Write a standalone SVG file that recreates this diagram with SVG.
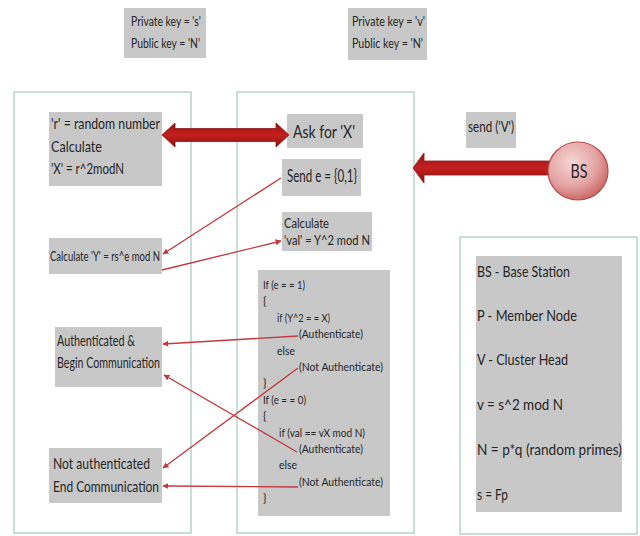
<svg xmlns="http://www.w3.org/2000/svg" width="640" height="536" viewBox="0 0 640 536">
<style>
.panel{fill:#ffffff;stroke:#a6c9bf;stroke-width:1.2}
.box{fill:#c8c8c8}
text{font-family:Lato,"Liberation Sans",sans-serif;fill:#262626}
.conn{stroke:#c0393f;stroke-width:1.3;fill:none;marker-end:url(#ah)}
.big{fill:url(#redg);stroke:#8a1616;stroke-width:0.8}
</style>
<defs>
<marker id="ah" viewBox="0 0 10 10" refX="9" refY="5" markerWidth="6" markerHeight="6" orient="auto" markerUnits="userSpaceOnUse">
<path d="M0,0 L10,5 L0,10 z" fill="#c0393f"/>
</marker>
<linearGradient id="redg" x1="0" y1="0" x2="0" y2="1">
<stop offset="0" stop-color="#9a1212"/>
<stop offset="0.5" stop-color="#c41f1f"/>
<stop offset="1" stop-color="#8c1010"/>
</linearGradient>
<radialGradient id="bsg" cx="0.4" cy="0.35" r="0.7">
<stop offset="0" stop-color="#f6d6d6"/>
<stop offset="0.6" stop-color="#e4a3a3"/>
<stop offset="1" stop-color="#c8605f"/>
</radialGradient>
</defs>

<g id="panels">
<rect id="panel-p" class="panel" x="14" y="92" width="177" height="441"/>
<rect id="panel-v" class="panel" x="237" y="92" width="177" height="441"/>
<rect id="panel-legend" class="panel" x="460" y="237" width="177" height="297"/>
</g>

<g id="key-p">
<rect class="box" x="124" y="8" width="82" height="50"/>
<text x="131" y="26" font-size="13" textLength="70" lengthAdjust="spacingAndGlyphs">Private key = 's'</text>
<text x="131" y="48" font-size="13" textLength="69" lengthAdjust="spacingAndGlyphs">Public key = 'N'</text>
</g>
<g id="key-v">
<rect class="box" x="348" y="8" width="79" height="52"/>
<text x="352" y="26" font-size="13" textLength="73" lengthAdjust="spacingAndGlyphs">Private key = 'v'</text>
<text x="352" y="48" font-size="13" textLength="71" lengthAdjust="spacingAndGlyphs">Public key = 'N'</text>
</g>

<g id="calc-x">
<rect class="box" x="49" y="112" width="113" height="74"/>
<text x="51" y="129" font-size="15" textLength="109" lengthAdjust="spacingAndGlyphs">'r' = random number</text>
<text x="51" y="152" font-size="15" textLength="51" lengthAdjust="spacingAndGlyphs">Calculate</text>
<text x="51" y="174" font-size="15" textLength="73" lengthAdjust="spacingAndGlyphs">'X' = r^2modN</text>
</g>

<g id="ask-x">
<rect class="box" x="287" y="114" width="76" height="34"/>
<text x="293" y="138" font-size="17.5" textLength="62" lengthAdjust="spacingAndGlyphs">Ask for 'X'</text>
</g>

<g id="send-e">
<rect class="box" x="282" y="159" width="79" height="37"/>
<text x="287" y="182" font-size="17.5" textLength="70" lengthAdjust="spacingAndGlyphs">Send e = {0,1}</text>
</g>

<g id="calc-val">
<rect class="box" x="282" y="212" width="90" height="39"/>
<text x="284" y="228" font-size="14" textLength="45" lengthAdjust="spacingAndGlyphs">Calculate</text>
<text x="284" y="245" font-size="14" textLength="86" lengthAdjust="spacingAndGlyphs">'val' = Y^2 mod N</text>
</g>

<g id="send-v">
<rect class="box" x="466" y="112" width="50" height="36"/>
<text x="468" y="132" font-size="15" textLength="46" lengthAdjust="spacingAndGlyphs">send ('V')</text>
</g>

<g id="calc-y">
<rect class="box" x="49" y="238" width="113" height="36"/>
<text x="50" y="261" font-size="13.5" textLength="110" lengthAdjust="spacingAndGlyphs">Calculate 'Y' = rs^e mod N</text>
</g>

<g id="auth">
<rect class="box" x="55" y="327" width="107" height="60"/>
<text x="57" y="346" font-size="15.5" textLength="78" lengthAdjust="spacingAndGlyphs">Authenticated &amp;</text>
<text x="57" y="368" font-size="15.5" textLength="103" lengthAdjust="spacingAndGlyphs">Begin Communication</text>
</g>

<g id="not-auth">
<rect class="box" x="49" y="448" width="113" height="55"/>
<text x="53" y="469" font-size="16" textLength="97" lengthAdjust="spacingAndGlyphs">Not authenticated</text>
<text x="53" y="492" font-size="16" textLength="106" lengthAdjust="spacingAndGlyphs">End Communication</text>
</g>

<g id="verify" font-size="11.5">
<rect class="box" x="258" y="270" width="132" height="246"/>
<text x="263" y="289" textLength="42" lengthAdjust="spacingAndGlyphs">If (e = = 1)</text>
<text x="263" y="305.4">{</text>
<text x="277" y="321.8" textLength="53" lengthAdjust="spacingAndGlyphs">if (Y^2 = = X)</text>
<text x="299" y="338.2" textLength="64" lengthAdjust="spacingAndGlyphs">(Authenticate)</text>
<text x="277" y="354.6" textLength="18" lengthAdjust="spacingAndGlyphs">else</text>
<text x="299" y="371" textLength="84" lengthAdjust="spacingAndGlyphs">(Not Authenticate)</text>
<text x="263" y="387.4">}</text>
<text x="263" y="403.8" textLength="43" lengthAdjust="spacingAndGlyphs">If (e = = 0)</text>
<text x="263" y="420.2">{</text>
<text x="279" y="436.6" textLength="86" lengthAdjust="spacingAndGlyphs">if (val == vX mod N)</text>
<text x="299" y="453" textLength="64" lengthAdjust="spacingAndGlyphs">(Authenticate)</text>
<text x="279" y="469.4" textLength="18" lengthAdjust="spacingAndGlyphs">else</text>
<text x="299" y="485.8" textLength="84" lengthAdjust="spacingAndGlyphs">(Not Authenticate)</text>
<text x="263" y="502.2">}</text>
</g>

<g id="legend" font-size="15">
<rect class="box" x="476" y="256" width="146" height="256"/>
<text x="477" y="277" textLength="93" lengthAdjust="spacingAndGlyphs">BS - Base Station</text>
<text x="477" y="321" textLength="100" lengthAdjust="spacingAndGlyphs">P - Member Node</text>
<text x="477" y="365" textLength="91" lengthAdjust="spacingAndGlyphs">V - Cluster Head</text>
<text x="477" y="410" textLength="86" lengthAdjust="spacingAndGlyphs">v = s^2 mod N</text>
<text x="477" y="455" textLength="145" lengthAdjust="spacingAndGlyphs">N = p*q (random primes)</text>
<text x="477" y="500" textLength="31" lengthAdjust="spacingAndGlyphs">s = Fp</text>
</g>

<g id="connectors">
<polygon class="big" points="162,135 175,123 175,128.5 276,128.5 276,123 289,135 276,147 276,141.5 175,141.5 175,147"/>
<polygon class="big" points="413,168 424,153 424,161 556,161 556,175 424,175 424,183"/>
<line class="conn" x1="281" y1="178" x2="163" y2="254"/>
<line class="conn" x1="162" y1="270" x2="281" y2="241"/>
<line class="conn" x1="298" y1="336" x2="163" y2="344"/>
<line class="conn" x1="298" y1="368" x2="163" y2="468"/>
<line class="conn" x1="297" y1="452" x2="164" y2="375"/>
<line class="conn" x1="298" y1="487" x2="163" y2="486"/>
</g>

<g id="bs">
<ellipse cx="578" cy="171" rx="30" ry="29" fill="url(#bsg)" stroke="#b44e4e" stroke-width="1.2"/>
<text x="579" y="178" font-size="20" text-anchor="middle" textLength="17" lengthAdjust="spacingAndGlyphs">BS</text>
</g>
</svg>
